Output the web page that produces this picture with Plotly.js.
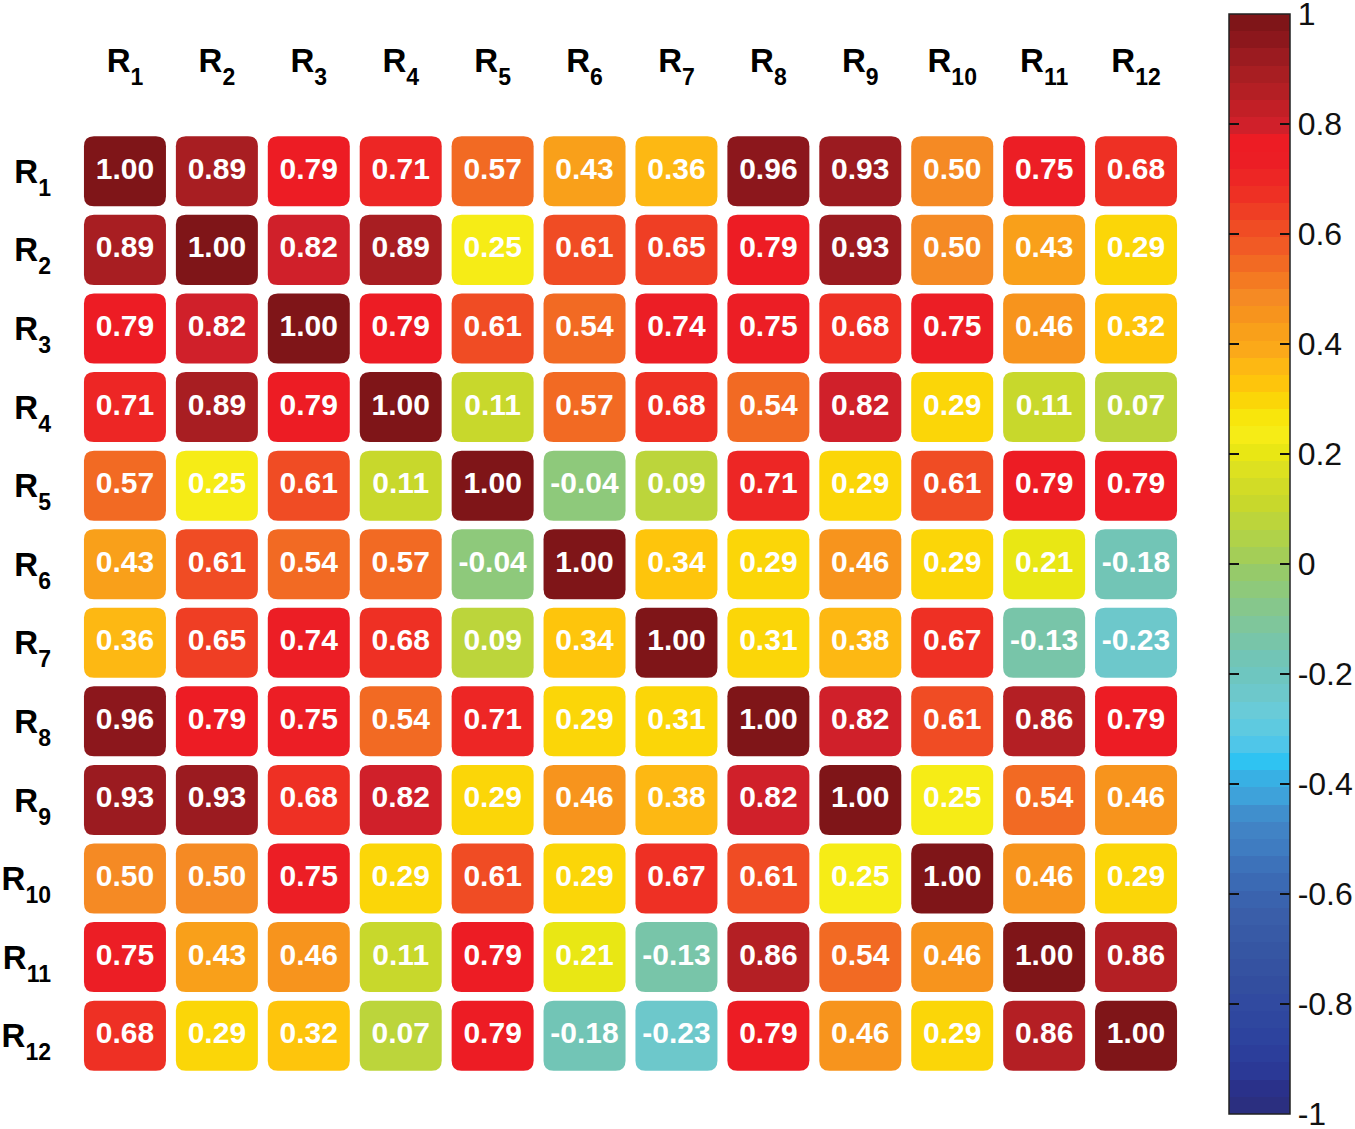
<!DOCTYPE html>
<html>
<head>
<meta charset="utf-8">
<script src="https://cdn.plot.ly/plotly-3.0.1.min.js"></script>
<style>
  html, body { margin: 0; padding: 0; background: #fff; }
  #chart { width: 1355px; height: 1129px; }
</style>
</head>
<body>
<div id="chart"></div>
<script>
/* ── data ─────────────────────────────────────────────── */
const NAMES = ['1', '2', '3', '4', '5', '6', '7', '8', '9', '10', '11', '12'];

const CORR = [
  [1.00, 0.89, 0.79, 0.71, 0.57, 0.43, 0.36, 0.96, 0.93, 0.50, 0.75, 0.68],
  [0.89, 1.00, 0.82, 0.89, 0.25, 0.61, 0.65, 0.79, 0.93, 0.50, 0.43, 0.29],
  [0.79, 0.82, 1.00, 0.79, 0.61, 0.54, 0.74, 0.75, 0.68, 0.75, 0.46, 0.32],
  [0.71, 0.89, 0.79, 1.00, 0.11, 0.57, 0.68, 0.54, 0.82, 0.29, 0.11, 0.07],
  [0.57, 0.25, 0.61, 0.11, 1.00, -0.04, 0.09, 0.71, 0.29, 0.61, 0.79, 0.79],
  [0.43, 0.61, 0.54, 0.57, -0.04, 1.00, 0.34, 0.29, 0.46, 0.29, 0.21, -0.18],
  [0.36, 0.65, 0.74, 0.68, 0.09, 0.34, 1.00, 0.31, 0.38, 0.67, -0.13, -0.23],
  [0.96, 0.79, 0.75, 0.54, 0.71, 0.29, 0.31, 1.00, 0.82, 0.61, 0.86, 0.79],
  [0.93, 0.93, 0.68, 0.82, 0.29, 0.46, 0.38, 0.82, 1.00, 0.25, 0.54, 0.46],
  [0.50, 0.50, 0.75, 0.29, 0.61, 0.29, 0.67, 0.61, 0.25, 1.00, 0.46, 0.29],
  [0.75, 0.43, 0.46, 0.11, 0.79, 0.21, -0.13, 0.86, 0.54, 0.46, 1.00, 0.86],
  [0.68, 0.29, 0.32, 0.07, 0.79, -0.18, -0.23, 0.79, 0.46, 0.29, 0.86, 1.00],
];

// ends nudged inside so the end labels are not dropped
const CB_TICKVALS = [0.9999, 0.8, 0.6, 0.4, 0.2, 0, -0.2, -0.4, -0.6, -0.8, -0.9999];
const CB_TICKTEXT = ['1', '0.8', '0.6', '0.4', '0.2', '0', '-0.2', '-0.4', '-0.6', '-0.8', '-1'];

/* ── 64-step colormap, bottom (-1) to top (+1) ─────────── */
const BANDS = [
  '#2b2f80', '#2a318a', '#2b3996', '#2c3e9b', '#2d439e', '#2f479f', '#314aa0', '#334e9f',
  '#3552a1', '#3656a3', '#385aa6', '#3a5ea9', '#3a63ae', '#3b6ab4', '#3d72ba', '#3f7cc1',
  '#4183c5', '#408fcd', '#3ea2da', '#38b0e4', '#2fc3f2', '#4fc6e9', '#5ecae0', '#69cbd8',
  '#6dc8cb', '#6ec6c0', '#72c5b6', '#78c5a9', '#7fc69b', '#86c78c', '#8ec97b', '#96ca6a',
  '#a4ce57', '#b0d249', '#bcd53b', '#c8d82c', '#d2dc26', '#dde120', '#e9e714', '#f6ec16',
  '#f8e60c', '#fbd608', '#fec50c', '#fdb813', '#fba919', '#f9a01a', '#f7941d', '#f58a24',
  '#f47a22', '#f26a23', '#f15a25', '#f04c24', '#ef3e24', '#ee3024', '#ed2625', '#ec1e25',
  '#ed1c24', '#d0202a', '#c21f26', '#b41f24', '#a81e22', '#9b1b20', '#8c171c', '#7f1518',
];

const FONT = 'Arial, "Liberation Sans", Helvetica, sans-serif';

/* ── layout geometry ──────────────────────────────────── */
const W = 1355, H = 1129;
const M = { l: 79, r: 173, t: 132, b: 54, autoexpand: false };
const plotW = W - M.l - M.r, plotH = H - M.t - M.b;
const N = NAMES.length;
const pxX = plotW / N, pxY = plotH / N;

// R with a lowered, slightly smaller index
const LABELS = NAMES.map(n =>
  `R<span style="font-size:23px;baseline-shift:-13px">${n}</span>`);

const bandColor = v => BANDS[Math.max(0, Math.min(63, Math.round((v + 1) / 2 * 63)))];

const discreteScale = [];
BANDS.forEach((c, i) => {
  discreteScale.push([i / 64, c]);
  discreteScale.push([(i + 1) / 64, c]);
});

// rounded rectangle path for cell (row i, col j), in data units
function cellPath(i, j) {
  const hw = 41 / pxX, hh = 35 / pxY;
  const rx = 10 / pxX, ry = 10 / pxY;
  const x0 = j - hw, x1 = j + hw, y0 = i - hh, y1 = i + hh;
  return `M ${x0 + rx},${y0} L ${x1 - rx},${y0} Q ${x1},${y0} ${x1},${y0 + ry} ` +
         `L ${x1},${y1 - ry} Q ${x1},${y1} ${x1 - rx},${y1} ` +
         `L ${x0 + rx},${y1} Q ${x0},${y1} ${x0},${y1 - ry} ` +
         `L ${x0},${y0 + ry} Q ${x0},${y0} ${x0 + rx},${y0} Z`;
}

const xs = [], ys = [], vals = [], texts = [], shapes = [];
CORR.forEach((row, i) => {
  row.forEach((v, j) => {
    xs.push(j); ys.push(i); vals.push(v); texts.push(v.toFixed(2));
    shapes.push({
      type: 'path', xref: 'x', yref: 'y', layer: 'below',
      path: cellPath(i, j),
      fillcolor: bandColor(v),
      line: { width: 0 },
    });
  });
});

const cbY = (H - M.b - 564) / plotH;

const cells = {
  x: xs, y: ys, text: texts,
  type: 'scatter', mode: 'markers+text',
  textposition: 'middle center',
  textfont: { family: FONT, size: 30, color: '#ffffff', weight: 'bold' },
  hoverinfo: 'skip',
  marker: {
    size: 1, opacity: 0,
    color: vals, colorscale: discreteScale, cmin: -1, cmax: 1,
    showscale: true,
    colorbar: {
      x: (1229 - M.l) / plotW, xanchor: 'left', xpad: 0,
      y: cbY, yanchor: 'middle', ypad: 0,
      len: 1100, lenmode: 'pixels',
      thickness: 61,
      outlinecolor: '#222', outlinewidth: 1.5,
      tickmode: 'array', tickvals: CB_TICKVALS, ticktext: CB_TICKTEXT,
      ticks: 'inside', ticklen: 10, tickwidth: 1.5, tickcolor: '#111',
      ticklabeloverflow: 'allow',
      tickfont: { family: FONT, size: 32, color: '#111' },
    },
  },
};

// second (empty) bar only to draw the tick marks on the left edge
const leftTicks = {
  x: [0], y: [0], type: 'scatter', mode: 'markers', hoverinfo: 'skip',
  marker: {
    size: 1, opacity: 0, color: [0], cmin: -1, cmax: 1,
    colorscale: [[0, 'rgba(0,0,0,0)'], [1, 'rgba(0,0,0,0)']],
    showscale: true,
    colorbar: {
      x: (1228 - M.l) / plotW, xanchor: 'left', xpad: 0,
      y: cbY, yanchor: 'middle', ypad: 0,
      len: 1100, lenmode: 'pixels',
      thickness: 1, outlinewidth: 0,
      tickmode: 'array', tickvals: CB_TICKVALS.slice(1, -1),
      ticks: 'outside', ticklen: 10, tickwidth: 1.5, tickcolor: '#111',
      showticklabels: false,
    },
  },
};

const layout = {
  width: W, height: H,
  margin: M,
  paper_bgcolor: '#ffffff',
  plot_bgcolor: '#ffffff',
  showlegend: false,
  font: { family: FONT, color: '#000' },
  xaxis: {
    range: [-0.5, N - 0.5], side: 'top',
    tickmode: 'array', tickvals: NAMES.map((_, k) => k), ticktext: LABELS,
    tickfont: { family: FONT, size: 33, color: '#000', weight: 'bold' },
    ticks: '', ticklabelstandoff: 52,
    showgrid: false, zeroline: false, showline: false, fixedrange: true,
  },
  yaxis: {
    range: [N - 0.5, -0.5],
    tickmode: 'array', tickvals: NAMES.map((_, k) => k), ticktext: LABELS,
    tickfont: { family: FONT, size: 33, color: '#000', weight: 'bold' },
    ticks: '', ticklabelstandoff: 27,
    showgrid: false, zeroline: false, showline: false, fixedrange: true,
  },
  shapes: shapes,
};

Plotly.newPlot('chart', [cells, leftTicks], layout, { displayModeBar: false, staticPlot: true });
</script>
</body>
</html>
